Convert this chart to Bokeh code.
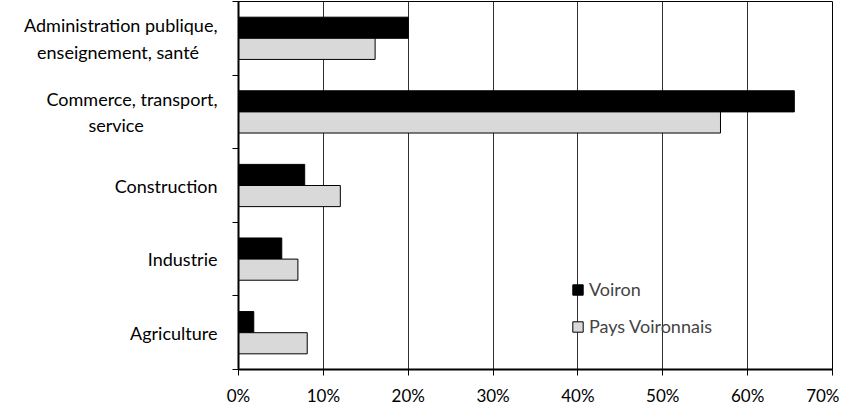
import numpy as np
from bokeh.plotting import figure
from bokeh.models import (ColumnDataSource, Range1d, FixedTicker, NumeralTickFormatter,
                          Legend, LegendItem)
from bokeh.transform import dodge
from bokeh.embed import file_html
from bokeh.resources import INLINE

NB = "\u00a0"
categories = ["Administration publique,\nenseignement, santé" + NB * 4,
              "Commerce, transport,\nservice" + NB * 16,
              "Construction",
              "Industrie",
              "Agriculture"]
voiron = [0.200, 0.655, 0.078, 0.051, 0.018]
pays_voironnais = [0.161, 0.568, 0.120, 0.070, 0.081]
x_ticks = [0.0, 0.1, 0.2, 0.3, 0.4, 0.5, 0.6, 0.7]

n = len(categories)
ypos = (n - 1 - np.arange(n)) + 0.5
src = ColumnDataSource(dict(y=ypos, voiron=voiron, pays=pays_voironnais))

FONT = "Lato"
FS = "18px"
p = figure(frame_width=594, frame_height=368, output_backend="svg", toolbar_location=None,
           x_range=Range1d(0, 0.7), y_range=Range1d(0, n),
           min_border_left=238, min_border_right=7, min_border_top=1, min_border_bottom=25)
p.outline_line_color = "black"
p.outline_line_width = 1

bh = 0.287
r1 = p.hbar(y=dodge("y", bh / 2, range=p.y_range), right="voiron", left=0, height=bh,
            source=src, fill_color="black", line_color="black", line_width=1)
r2 = p.hbar(y=dodge("y", -bh / 2, range=p.y_range), right="pays", left=0, height=bh,
            source=src, fill_color="#d9d9d9", line_color="black", line_width=1)

# x axis
p.xaxis.ticker = FixedTicker(ticks=x_ticks)
p.xaxis.formatter = NumeralTickFormatter(format="0%")
p.xaxis.major_label_text_font = FONT
p.xaxis.major_label_text_font_size = "17px"
p.xaxis.major_label_text_color = "black"
p.xaxis.axis_line_width = 2
p.xaxis.axis_line_color = "black"
p.xaxis.major_tick_in = 0
p.xaxis.major_tick_out = 6
p.xaxis.major_tick_line_color = "black"
p.xaxis.minor_tick_line_color = None
p.xaxis.major_label_standoff = 9

# y axis: labels at centers, ticks at boundaries (minor)
p.yaxis.ticker = FixedTicker(ticks=list(ypos), minor_ticks=list(range(n + 1)))
p.yaxis.major_label_overrides = {float(y): c for y, c in zip(ypos, categories)}
p.yaxis.major_label_text_font = FONT
p.yaxis.major_label_text_font_size = FS
p.yaxis.major_label_text_color = "black"
p.yaxis.major_tick_in = 0
p.yaxis.major_tick_out = 0
p.yaxis.minor_tick_in = 0
p.yaxis.minor_tick_out = 6
p.yaxis.minor_tick_line_color = "black"
p.yaxis.axis_line_width = 2
p.yaxis.axis_line_color = "black"
p.yaxis.major_label_standoff = 15

p.xgrid.ticker = FixedTicker(ticks=x_ticks)
p.xgrid.grid_line_color = "#303030"
p.xgrid.grid_line_width = 1
p.ygrid.grid_line_color = None

legend = Legend(items=[LegendItem(label="Voiron", renderers=[r1]),
                       LegendItem(label="Pays Voironnais", renderers=[r2])],
                location=(333, 32), border_line_color=None, background_fill_alpha=0,
                padding=0, margin=0, spacing=15, glyph_width=13, glyph_height=13,
                label_standoff=5, label_text_font=FONT, label_text_font_size=FS,
                label_height=21)
p.add_layout(legend)

open("out.html", "w").write(file_html(p, INLINE))
